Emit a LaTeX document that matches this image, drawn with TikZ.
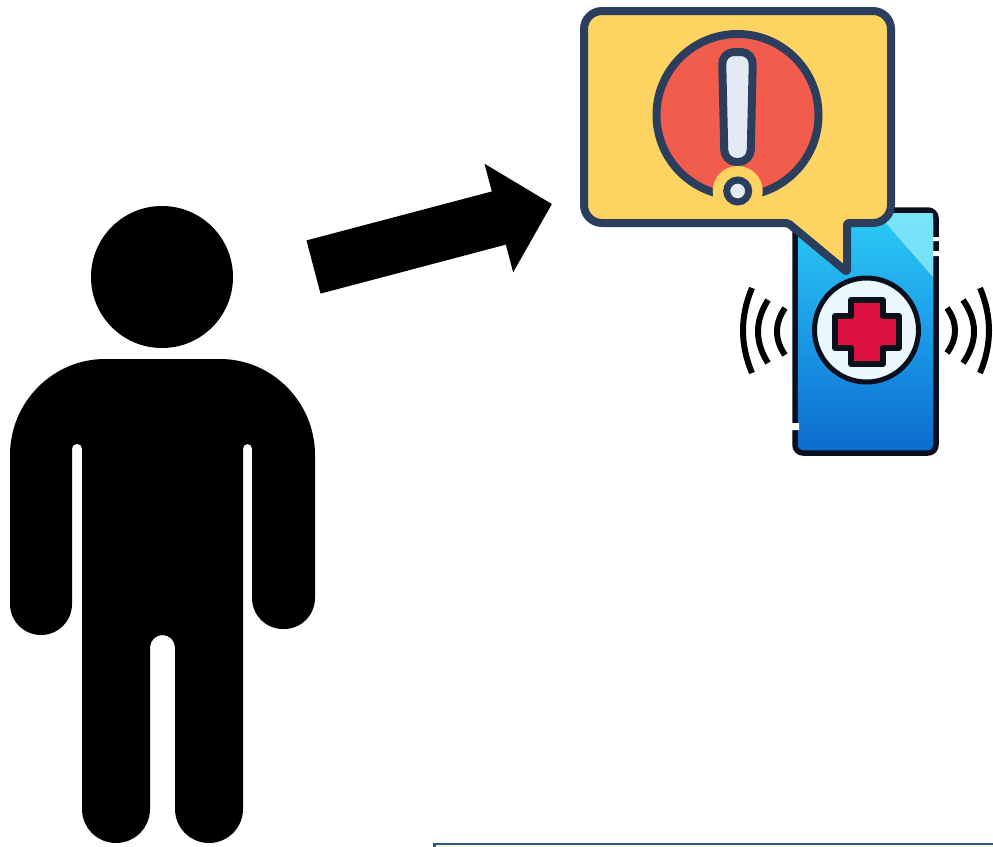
\documentclass[tikz,border=0pt]{standalone}
\usepackage{xcolor}
\usetikzlibrary{arrows.meta,positioning}
\definecolor{bubbleink}{HTML}{2C3E5E}
\definecolor{bubblefill}{HTML}{FDD361}
\definecolor{alertred}{HTML}{F25C4C}
\definecolor{alertpale}{HTML}{E3EAF3}
\definecolor{phoneink}{HTML}{0A0F1E}
\definecolor{phonetop}{HTML}{2CCDF4}
\definecolor{phonemid}{HTML}{1C9BE8}
\definecolor{phonelow}{HTML}{0C6CCC}
\definecolor{phonelight}{HTML}{8CEBFA}
\definecolor{crossred}{HTML}{DC1040}
\definecolor{boxblue}{HTML}{2F5597}
\definecolor{boxfill}{HTML}{FFF4D6}
\tikzset{
  disc/.style={circle, inner sep=0pt, minimum size=#1},
  bubbleline/.style={draw=bubbleink, line width=8pt, line join=round},
  phoneline/.style={draw=phoneink, line width=5.5pt, line join=round},
  wave/.style={draw=black, line width=6pt},
  bigarrow/.style={-{Triangle[length=55pt,width=109pt]}, line width=55pt, draw=black}
}
\begin{document}
\begin{tikzpicture}[x=1pt,y=-1pt]
\clip (0,0) rectangle (993,846);
\fill[white] (0,0) rectangle (993,846);
% person
\node[disc=142pt,fill=black] (head) at (162,277) {};
\fill[black] (105,359) -- (220,359) .. controls (272,359) and (315,402) .. (315,455)
  [rounded corners=31pt] -- (315,629) -- (252,629)
  [rounded corners=4.5pt] -- (252,444) -- (243,444) [rounded corners=34pt] -- (243,843) -- (175,843)
  [rounded corners=12.5pt] -- (175,635) -- (150,635) [rounded corners=34pt] -- (150,843) -- (82,843)
  [rounded corners=4.5pt] -- (82,444) -- (72,444) [rounded corners=31pt] -- (72,635) -- (10,635)
  [sharp corners] -- (10,455) .. controls (10,402) and (53,359) .. (105,359) -- cycle;
% arrow
\coordinate (tail) at (313.5,267);
\coordinate (tip) at (552,204);
\draw[bigarrow] (tail) -- (tip);
% phone
\node[rounded corners=8pt,minimum width=141pt,minimum height=243pt,inner sep=0pt,
  top color=phonetop,bottom color=phonelow,middle color=phonemid,phoneline] (phone) at (865.5,331.5) {};
\fill[phonelight,opacity=.8] (877,213) -- (933,213) -- (933,277) -- cycle;
\fill[white] (933,237) rectangle (943,241) (933,251) rectangle (943,256) (788,423) rectangle (799,430);
\foreach \xa/\xb/\ya/\yb in {752/740/288/373,768/754.7/300/363,785/774.3/308/355,947/957.7/308/353,963/977.7/300/363,980/992/288/373}{
  \draw[wave] (\xa,\ya) .. controls (\xb,{\ya+(\yb-\ya)/3}) and (\xb,{\yb-(\yb-\ya)/3}) .. (\xa,\yb);
}
\node[disc=104pt,draw=phoneink,line width=5pt,fill=cyan!8] (badge) at (866.5,330) {};
\draw[phoneline,fill=crossred] (851,300) -- (883,300) -- (883,316) -- (899,316) -- (899,348) -- (883,348) -- (883,364) -- (851,364) -- (851,348) -- (835,348) -- (835,316) -- (851,316) -- cycle;
% bubble
\draw[bubbleline,fill=bubblefill] (700,11) [rounded corners=18pt] -- (891,11) -- (891,223) [rounded corners=2pt] -- (847,223)
  -- (847,272) -- (788,223) [rounded corners=18pt] -- (584,223) -- (584,11) -- cycle;
\node[disc=162pt,bubbleline,fill=alertred] (alert) at (737.5,115) {};
\draw[bubbleline,fill=alertpale,rounded corners=12pt] (722,52) -- (753,52) -- (750.5,162) -- (724.5,162) -- cycle;
\node[disc=50pt,fill=bubblefill] (dotback) at (737.7,191) {};
\node[disc=22pt,draw=bubbleink,line width=7pt,fill=alertpale] (dot) at (737.7,191) {};
% box at the bottom edge
\node[draw=boxblue,line width=2.5pt,fill=boxfill,minimum width=600pt,minimum height=30pt,inner sep=0pt,anchor=north west] (box) at (433,842.5) {};
\end{tikzpicture}
\end{document}
